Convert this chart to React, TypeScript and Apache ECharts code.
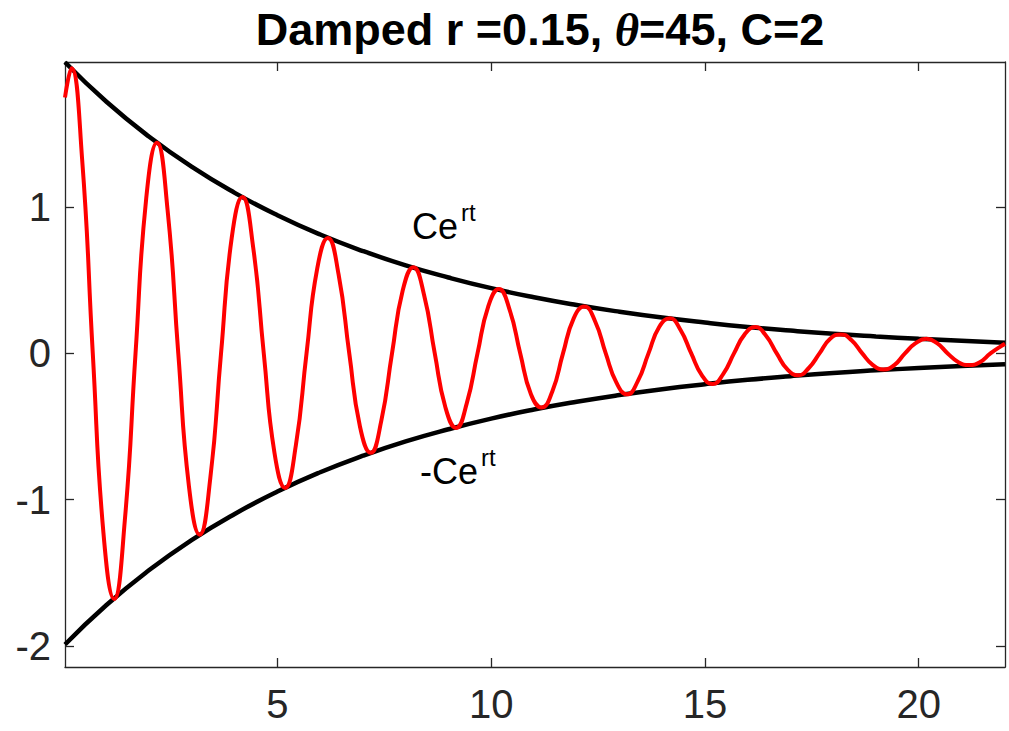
import React, { useEffect, useRef } from "react";
import * as echarts from "echarts";

const titleMain = "Damped r =0.15, ";
const titleTheta = "θ";
const titleRest = "=45, C=2";

const xTicks = [5, 10, 15, 20];
const yTicks = [-2, -1, 0, 1];

const envT = [0.03, 1, 2, 3, 4, 5, 6, 7, 8, 9, 10, 11, 12, 13, 14, 15, 16, 17, 18, 19, 20, 21, 22.02];
const envUpper = [1.991, 1.721, 1.482, 1.275, 1.098, 0.945, 0.813, 0.7, 0.602, 0.519, 0.446, 0.384, 0.331, 0.285, 0.245, 0.211, 0.181, 0.156, 0.134, 0.116, 0.1, 0.086, 0.0735];
const envLower = [-1.991, -1.721, -1.482, -1.275, -1.098, -0.945, -0.813, -0.7, -0.602, -0.519, -0.446, -0.384, -0.331, -0.285, -0.245, -0.211, -0.181, -0.156, -0.134, -0.116, -0.1, -0.086, -0.0735];

const redT = [
  0.03,
  0.18, 0.43, 0.68, 0.93, 1.18, 1.43, 1.68, 1.93,
  2.18, 2.43, 2.68, 2.93, 3.18, 3.43, 3.68, 3.93,
  4.18, 4.43, 4.68, 4.93, 5.18, 5.43, 5.68, 5.93,
  6.18, 6.43, 6.68, 6.93, 7.18, 7.43, 7.68, 7.93,
  8.18, 8.43, 8.68, 8.93, 9.18, 9.43, 9.68, 9.93,
  10.18, 10.43, 10.68, 10.93, 11.18, 11.43, 11.68, 11.93,
  12.18, 12.43, 12.68, 12.93, 13.18, 13.43, 13.68, 13.93,
  14.18, 14.43, 14.68, 14.93, 15.18, 15.43, 15.68, 15.93,
  16.18, 16.43, 16.68, 16.93, 17.18, 17.43, 17.68, 17.93,
  18.18, 18.43, 18.68, 18.93, 19.18, 19.43, 19.68, 19.93,
  20.18, 20.43, 20.68, 20.93, 21.18, 21.43, 21.68, 21.93,
  22.02,
];
const redY = [
  1.75,
  1.95, 1.33, 0, -1.23, -1.68, -1.14, 0, 1.06,
  1.44, 0.98, 0, -0.91, -1.24, -0.85, 0, 0.79,
  1.07, 0.73, 0, -0.68, -0.92, -0.63, 0, 0.58,
  0.79, 0.54, 0, -0.5, -0.68, -0.46, 0, 0.43,
  0.59, 0.4, 0, -0.37, -0.51, -0.34, 0, 0.32,
  0.44, 0.3, 0, -0.28, -0.37, -0.26, 0, 0.24,
  0.32, 0.22, 0, -0.2, -0.28, -0.19, 0, 0.18,
  0.24, 0.16, 0, -0.15, -0.21, -0.14, 0, 0.13,
  0.18, 0.12, 0, -0.11, -0.15, -0.1, 0, 0.1,
  0.13, 0.09, 0, -0.08, -0.11, -0.08, 0, 0.07,
  0.1, 0.07, 0, -0.06, -0.08, -0.06, 0, 0.05,
  0.065,
];

const AXIS_COLOR = "#262626";
const FONT = "Liberation Sans, Arial, Helvetica, sans-serif";

export default function App() {
  const ref = useRef<HTMLDivElement>(null);

  useEffect(() => {
    if (!ref.current) return;
    const chart = echarts.init(ref.current, undefined, { renderer: "svg" });

    const zip = (xs: number[], ys: number[]) => xs.map((x, i) => [x, ys[i]]);

    const xBase = {
      type: "value",
      min: 0.03,
      max: 22.02,
      splitLine: { show: false },
      axisLine: { show: true, onZero: false, lineStyle: { color: AXIS_COLOR, width: 1.3 } },
      axisTick: { show: true, inside: true, length: 9, customValues: xTicks, lineStyle: { color: AXIS_COLOR, width: 1.3 } },
    };
    const yBase = {
      type: "value",
      min: -2.145,
      max: 1.993,
      splitLine: { show: false },
      axisLine: { show: true, onZero: false, lineStyle: { color: AXIS_COLOR, width: 1.3 } },
      axisTick: { show: true, inside: true, length: 9, customValues: yTicks, lineStyle: { color: AXIS_COLOR, width: 1.3 } },
    };

    chart.setOption({
      animation: false,
      backgroundColor: "#ffffff",
      title: {
        left: 535,
        top: 1,
        textAlign: "center",
        text: `{b|${titleMain}}{i|${titleTheta}}{b|${titleRest}}`,
        textStyle: {
          rich: {
            b: { fontFamily: FONT, fontWeight: "bold", fontSize: 45, color: "#000" },
            i: { fontFamily: "Liberation Serif, Times New Roman, serif", fontStyle: "italic", fontSize: 47, color: "#000" },
          },
        },
      },
      grid: { left: 65, right: 4, top: 62, bottom: 64, containLabel: false },
      xAxis: [
        {
          ...xBase,
          position: "bottom",
          axisLabel: { show: true, customValues: xTicks, fontSize: 40, fontFamily: FONT, color: AXIS_COLOR, margin: 17 },
        },
        {
          ...xBase,
          position: "top",
          axisLabel: { show: false },
        },
      ],
      yAxis: [
        {
          ...yBase,
          position: "left",
          axisLabel: { show: true, customValues: yTicks, fontSize: 40, fontFamily: FONT, color: AXIS_COLOR, margin: 14 },
        },
        {
          ...yBase,
          position: "right",
          axisLabel: { show: false },
        },
      ],
      graphic: [
        { type: "text", x: 412, y: 226, z: 100, style: { text: "Ce", font: `36px ${FONT}`, fill: "#000", verticalAlign: "middle", align: "left" } },
        { type: "text", x: 461, y: 212, z: 100, style: { text: "rt", font: `24px ${FONT}`, fill: "#000", verticalAlign: "middle", align: "left" } },
        { type: "text", x: 420, y: 471, z: 100, style: { text: "-Ce", font: `36px ${FONT}`, fill: "#000", verticalAlign: "middle", align: "left" } },
        { type: "text", x: 481, y: 457, z: 100, style: { text: "rt", font: `24px ${FONT}`, fill: "#000", verticalAlign: "middle", align: "left" } },
      ],
      series: [
        {
          type: "line",
          name: "Ce^rt",
          data: zip(envT, envUpper),
          smooth: true,
          showSymbol: false,
          lineStyle: { color: "#000", width: 4.5 },
          silent: true,
          z: 2,
        },
        {
          type: "line",
          name: "-Ce^rt",
          data: zip(envT, envLower),
          smooth: true,
          showSymbol: false,
          lineStyle: { color: "#000", width: 4.5 },
          silent: true,
          z: 2,
        },
        {
          type: "line",
          name: "damped",
          data: zip(redT, redY),
          smooth: true,
          showSymbol: false,
          lineStyle: { color: "#ff0000", width: 4 },
          silent: true,
          z: 3,
        },
      ],
    });

    return () => chart.dispose();
  }, []);

  return (
    <div
      ref={ref}
      style={{ position: "fixed", left: 0, top: 0, width: 1009, height: 731, background: "#fff" }}
    />
  );
}
